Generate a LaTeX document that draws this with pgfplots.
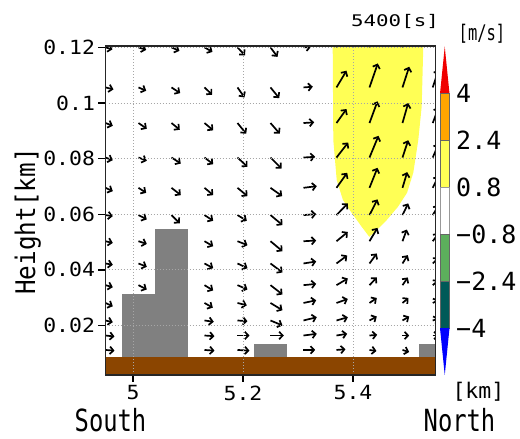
\documentclass[border=0pt]{standalone}
\usepackage{pgfplots}
\pgfplotsset{compat=1.18}
\usepackage{fontspec}
\usetikzlibrary{arrows.meta}
\newfontfamily\monofont{DejaVu Sans Mono}
\newfontfamily\widefont[FakeStretch=1.1]{DejaVu Sans Mono}
\newfontfamily\timefont[FakeStretch=1.3]{DejaVu Sans Mono}
\newfontfamily\narrowfont[FakeStretch=0.72]{DejaVu Sans Mono}
\newfontfamily\condfont[FakeStretch=0.78]{DejaVu Sans Mono}
\newfontfamily\labfont[FakeStretch=0.9]{DejaVu Sans Mono}
\definecolor{cyel}{HTML}{FFFF55}
\definecolor{corange}{HTML}{FFA500}
\definecolor{cred}{HTML}{F00000}
\definecolor{cgreen}{HTML}{5CAF5C}
\definecolor{cteal}{HTML}{005A58}
\definecolor{cblue}{HTML}{0000FF}
\definecolor{cbrown}{HTML}{8B4500}
\definecolor{cgrey}{HTML}{808080}
\begin{document}
\begin{tikzpicture}
\path[use as bounding box] (0,0) rectangle (520pt,439pt);
\begin{axis}[
  at={(105.5pt,64pt)}, anchor=south west,
  width=330pt, height=329pt, scale only axis,
  xmin=4.95, xmax=5.55, ymin=0.0022, ymax=0.1205,
  scaled x ticks=false, scaled y ticks=false,
  xtick={5,5.2,5.4}, xticklabels={5,5.2,5.4},
  ytick={0.02,0.04,0.06,0.08,0.1,0.12},
  yticklabels={0.02,0.04,0.06,0.08,0.1,0.12},
  tick pos=left, tick align=outside,
  major tick length=7pt,
  major tick style={line width=1.3pt, black},
  grid=major, major grid style={dash pattern=on 0.9pt off 2.1pt, black!35, line width=0.9pt},
  axis line style={line width=1.3pt, black!85},
  axis on top,
  tick label style={font=\widefont\fontsize{19.5}{20}\selectfont},
]
% yellow region (0.8 - 2.4 m/s)
\addplot[fill=cyel, draw=none] coordinates {
 (5.3631,0.1205) (5.3642,0.0867) (5.3704,0.0723) (5.3818,0.0651)
 (5.3976,0.0605) (5.4158,0.0555) (5.4296,0.0519) (5.4431,0.0543)
 (5.4613,0.0579) (5.4818,0.0627) (5.4982,0.0677) (5.5096,0.0749)
 (5.5187,0.0867) (5.5249,0.0987) (5.5278,0.1205)} -- cycle;
% buildings
\addplot[fill=cgrey, draw=none] coordinates {(4.98,0.0087) (4.98,0.0312) (5.04,0.0312) (5.04,0.0087)} -- cycle;
\addplot[fill=cgrey, draw=none] coordinates {(5.04,0.0087) (5.04,0.0548) (5.10,0.0548) (5.10,0.0087)} -- cycle;
\addplot[fill=cgrey, draw=none] coordinates {(5.22,0.0087) (5.22,0.0134) (5.28,0.0134) (5.28,0.0087)} -- cycle;
\addplot[fill=cgrey, draw=none] coordinates {(5.52,0.0087) (5.52,0.0133) (5.56,0.0133) (5.56,0.0087)} -- cycle;
% ground
\addplot[fill=cbrown, draw=none] coordinates {(4.94,0.0) (4.94,0.0087) (5.56,0.0087) (5.56,0.0)} -- cycle;
% wind vectors (tail at grid point; dx, dy in screen units)
\addplot[black, line width=1.7pt, -{Straight Barb[length=3.5pt,width=7.5pt]},
  quiver={u=\thisrow{dx}/550, v=\thisrow{dy}/2781}] table[x=x, y=y] {
x y dx dy
4.95 0.1200 7 -2
5.01 0.1200 7.7 -2.5
5.07 0.1200 8 -3.5
5.13 0.1200 8 -4.5
5.19 0.1200 7.5 -8
5.25 0.1200 7 -9.5
5.31 0.1200 7.5 0.5
5.37 0.1200 9 15
5.43 0.1200 8 22
5.49 0.1200 6 20
4.95 0.1056 8 -2
5.01 0.1056 7.7 -3.3
5.07 0.1056 8.7 -5.7
5.13 0.1056 7.7 -7.3
5.19 0.1056 7 -10
5.25 0.1056 8.7 -10.7
5.31 0.1056 9.3 0.7
5.37 0.1056 10 16.7
5.43 0.1056 8.3 24
5.49 0.1056 6.7 20.7
5.545 0.1056 6 18
4.95 0.0928 7.3 -2.7
5.01 0.0928 8.3 -5.7
5.07 0.0928 8.3 -6.7
5.13 0.0928 8.7 -7.3
5.19 0.0928 8.7 -10.7
5.25 0.0928 9.3 -10.7
5.31 0.0928 10.7 0.7
5.37 0.0928 10 14
5.43 0.0928 8 21.7
5.49 0.0928 5.7 20
5.545 0.0928 6 16
4.95 0.0804 7.3 -2.7
5.01 0.0804 8.3 -3.3
5.07 0.0804 9.3 -6
5.13 0.0804 8.7 -6.7
5.19 0.0804 10 -9.3
5.25 0.0804 11 -11
5.31 0.0804 11.7 0.7
5.37 0.0804 11.7 15
5.43 0.0804 9 21.7
5.49 0.0804 5.7 17.3
5.545 0.0804 6 14
4.95 0.0695 7.3 -3.3
5.01 0.0695 7.7 -5
5.07 0.0695 9.3 -7.3
5.13 0.0695 8.7 -7.3
5.19 0.0695 10 -8.3
5.25 0.0695 11.7 -8.3
5.31 0.0695 13.3 1.7
5.37 0.0695 10.7 15
5.43 0.0695 8 20
5.49 0.0695 4.7 15.7
5.545 0.0695 6 12
4.95 0.0597 7.3 -1
5.01 0.0597 8.3 -4.3
5.07 0.0597 8.3 -8.3
5.13 0.0597 8.7 -5.7
5.19 0.0597 9.3 -5.7
5.25 0.0597 12 -10
5.31 0.0597 12.7 1
5.37 0.0597 11.3 11.7
5.43 0.0597 8 15.7
5.49 0.0597 5.7 11.7
5.545 0.0597 6 10
4.95 0.0503 7.3 -1.7
5.01 0.0503 8.3 -2.7
5.13 0.0503 8.7 -5
5.19 0.0503 10 -4
5.25 0.0503 12 -10
5.31 0.0503 12.7 0.7
5.37 0.0503 11.3 9.3
5.43 0.0503 8 13.3
5.49 0.0503 4.3 11.7
5.545 0.0503 6 8
4.95 0.0423 7.3 -1.3
5.01 0.0423 8.3 -3.3
5.13 0.0423 8.7 -4.7
5.19 0.0423 10 -4.7
5.25 0.0423 12 -9
5.31 0.0423 12.7 2
5.37 0.0423 10.7 8
5.43 0.0423 7.3 10
5.49 0.0423 5.3 8.3
5.545 0.0423 6 6
4.95 0.0345 7.3 -2
5.01 0.0345 8.3 -4.3
5.13 0.0345 8.7 -5.3
5.19 0.0345 10 -4.3
5.25 0.0345 12 -9.3
5.31 0.0345 12.7 1.3
5.37 0.0345 11.3 6.7
5.43 0.0345 7.3 7.7
5.49 0.0345 5.3 7.7
5.545 0.0345 6 5
4.95 0.0281 7.3 -3.3
5.13 0.0281 8.3 -4.7
5.19 0.0281 9.3 -2.3
5.25 0.0281 12 -7.3
5.31 0.0281 12.7 2.7
5.37 0.0281 11.3 4
5.43 0.0281 7.3 5
5.49 0.0281 6 5
5.545 0.0281 6 3
4.95 0.0218 7.3 -1.7
5.13 0.0218 9.3 -1.3
5.19 0.0218 10 -0.7
5.25 0.0218 12 -5
5.31 0.0218 13.3 3.3
5.37 0.0218 11.3 3.3
5.43 0.0218 7.3 4
5.49 0.0218 6.7 4
5.545 0.0218 6 2
4.95 0.0164 9 -1
5.13 0.0164 10 -0.7
5.19 0.0164 12 0
5.25 0.0164 13.3 0
5.31 0.0164 13.3 1.7
5.37 0.0164 10.7 1.7
5.43 0.0164 7.7 0.7
5.49 0.0164 6.7 0
5.545 0.0164 6 0
4.95 0.0112 9 -0.7
5.13 0.0112 10 -0.7
5.19 0.0112 12 -0.7
5.31 0.0112 11.7 0
5.37 0.0112 9 0.7
5.43 0.0112 7 -1
5.49 0.0112 6.7 -2
};
\end{axis}
% colour bar
\begin{axis}[
  at={(440pt,64pt)}, anchor=south west,
  width=9.5pt, height=328.3pt, scale only axis,
  xmin=0, xmax=1, ymin=-5.6, ymax=5.6,
  axis line style={draw=none},
  xtick=\empty,
  ytick={-4,-2.4,-0.8,0.8,2.4,4},
  yticklabels={−4,−2.4,−0.8,0.8,2.4,4},
  yticklabel pos=right,
  ytick style={draw=none},
  yticklabel style={font=\monofont\fontsize{25}{25}\selectfont, anchor=west, inner sep=0pt, xshift=6.5pt},
  clip=false,
]
\addplot[fill=cred, draw=none] coordinates {(0,4) (0.5,5.6) (1,4)} -- cycle;
\addplot[fill=corange, draw=black!60, line width=0.5pt] coordinates {(0,2.4) (0,4) (1,4) (1,2.4)} -- cycle;
\addplot[fill=cyel, draw=black!60, line width=0.5pt] coordinates {(0,0.8) (0,2.4) (1,2.4) (1,0.8)} -- cycle;
\addplot[fill=white, draw=black!40, line width=0.8pt] coordinates {(0,-0.8) (0,0.8) (1,0.8) (1,-0.8)} -- cycle;
\addplot[fill=cgreen, draw=black!60, line width=0.5pt] coordinates {(0,-2.4) (0,-0.8) (1,-0.8) (1,-2.4)} -- cycle;
\addplot[fill=cteal, draw=black!60, line width=0.5pt] coordinates {(0,-4) (0,-2.4) (1,-2.4) (1,-4)} -- cycle;
\addplot[fill=cblue, draw=none] coordinates {(0,-4) (0.5,-5.6) (1,-4)} -- cycle;
\end{axis}
% texts
\node[anchor=base, inner sep=0pt] at (110.5pt,7pt) {\condfont\fontsize{30.5}{31}\selectfont South};
\node[anchor=base, inner sep=0pt] at (459.5pt,7pt) {\condfont\fontsize{30.5}{31}\selectfont North};
\node[anchor=base, inner sep=0pt] at (478.4pt,40pt) {\monofont\fontsize{21.5}{22}\selectfont [km]};
\node[anchor=base, inner sep=0pt] at (395pt,412.3pt) {\timefont\fontsize{16}{16}\selectfont 5400[s]};
\node[anchor=base, inner sep=0pt] at (482pt,398.3pt) {\narrowfont\fontsize{21.5}{22}\selectfont [m/s]};
\node[anchor=base, inner sep=0pt, rotate=90] at (35pt,217.5pt) {\labfont\fontsize{27}{27}\selectfont Height[km]};
\end{tikzpicture}
\end{document}
